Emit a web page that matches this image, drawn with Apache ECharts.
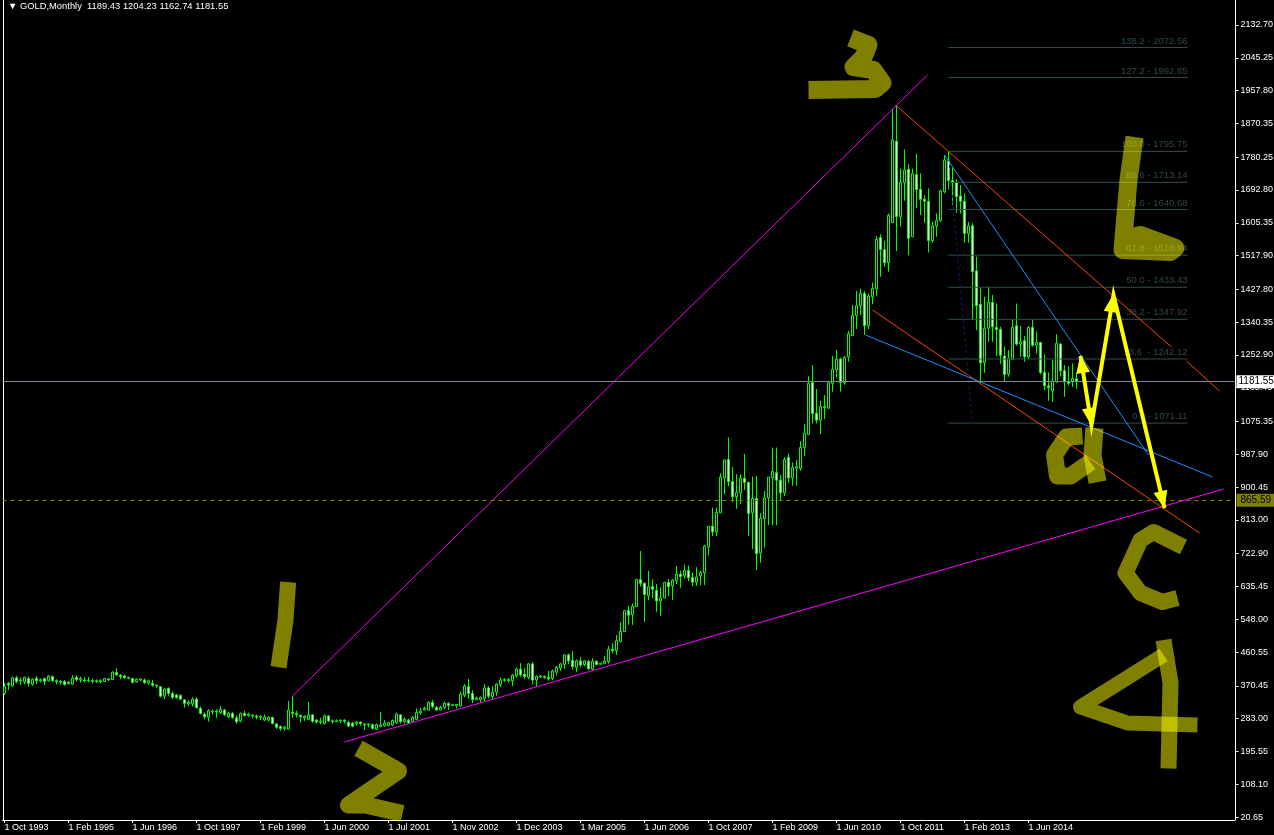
<!DOCTYPE html>
<html><head><meta charset="utf-8">
<style>html,body{margin:0;padding:0;background:#000;overflow:hidden}#c{width:1274px;height:835px}</style>
<script src="https://cdn.jsdelivr.net/npm/echarts@6/dist/echarts.min.js"></script>
</head><body><div id="c"></div>
<script>
// monthly bars: [open, close, low, high]
const bars1993to1997 = [
[350,368,346,377],[377,373,359,381],[370,392,368,395],[392,382,377,397],[386,384,373,393],[381,393,375,395],[390,377,368,395],[375,388,371,390],[390,384,375,397],[384,387,380,390],
[390,382,373,392],[384,396,382,399],[395,384,382,398],[384,382,375,388],[382,380,373,386],[382,374,371,386],[380,377,374,383],[375,391,373,399],[393,387,382,399],[386,389,379,395],
[386,384,380,393],[384,386,380,394],[384,382,377,389],[382,384,378,388],[384,382,377,388],[382,390,381,391],[389,387,383,391],[387,407,386,409],[406,400,397,417],[399,395,388,402],
[397,393,389,400],[393,391,388,395],[390,380,377,391],[381,388,379,390],[386,389,382,390],[386,379,376,390],[378,384,374,387],[377,372,368,386],[372,370,364,374],[368,343,340,370],
[343,362,335,364],[364,350,344,366],[350,340,335,355],[346,339,336,349],[345,335,333,348],[333,324,312,335],[322,326,317,331],[322,335,315,340],[335,312,310,340]
];
const bars1997to2001 = [
[310,297,294,315],[295,288,281,299],[287,304,275,308],[301,303,293,307],[303,301,285,308],[299,308,295,317],[306,294,290,309],[288,297,285,301],[297,286,283,301],[285,275,269,291],
[277,297,273,299],[297,291,289,304],[291,295,288,299],[292,290,284,295],[290,287,281,294],[287,289,279,292],[279,287,277,294],[279,286,276,290],[286,270,268,288],[269,260,256,270],
[262,257,251,265],[257,260,251,263],[255,306,254,330],[300,297,285,343],[297,294,286,304],[292,288,273,293],[285,289,277,292],[281,293,279,328],[293,276,272,294],[279,274,270,282],
[273,276,268,285],[270,290,267,294],[290,277,275,293],[277,275,270,281],[275,277,274,281],[277,279,271,281],[279,276,270,281],[273,263,261,277],[271,263,260,274],[270,274,265,277],
[274,270,264,275],[268,266,253,272],[267,269,260,270],[267,257,254,270],[255,267,253,270],[262,266,260,301],[264,271,261,279],[265,272,263,275]
];
const bars2001to2006 = [
[266,278,263,281],[272,295,269,299],[293,275,270,295],[275,281,270,286],[279,271,269,283],[276,286,273,290],[281,299,279,310],[298,303,292,312],
[306,310,305,315],[306,326,305,330],[326,315,311,333],[313,306,305,317],[306,313,305,317],[312,324,308,328],[324,318,306,326],[318,320,317,322],[317,321,310,322],
[317,348,315,355],[346,370,340,375],[368,350,337,389],[350,334,324,359],[334,338,333,342],[333,340,326,342],[337,365,330,375],[365,343,337,370],[342,353,335,370],
[354,375,344,377],[374,386,367,393],[385,387,381,391],[387,385,379,391],[384,399,370,402],[397,415,393,419],[415,400,395,431],[401,395,388,417],[393,429,388,431],[429,386,375,434],
[386,396,370,398],[394,397,391,399],[396,393,389,398],[393,389,384,410],[390,410,386,414],[407,420,399,423],[418,429,411,431],[427,453,415,455],[453,437,429,457],[438,422,414,463],
[420,437,407,441],[437,426,420,448],[427,437,423,439],[436,416,413,439],[415,436,410,444],[436,427,426,438],[428,431,427,431],[430,436,428,450],[435,468,430,477],[468,464,457,484],
[464,491,453,506],[489,516,486,540],[515,571,514,573],[572,559,533,583],[560,583,533,590]
];
const bars2006to2010 = [
[582,654,581,656],[654,644,635,730],[644,614,541,646],[611,635,599,677],[635,628,605,655],[625,597,568,642],[597,605,557,633],[605,646,604,648],[646,635,610,655],[637,652,599,655],
[651,668,642,690],[668,662,632,677],[664,678,657,694],[678,659,650,691],[659,647,636,673],[647,661,637,687],[664,673,639,677],[672,743,639,746],[741,796,719,796],[796,781,770,846],
[781,833,770,846],[832,927,832,937],[925,973,882,973],[974,915,903,1033],[915,875,861,954],[875,886,842,935],[885,924,855,935],[924,913,893,989],[913,830,770,915],[832,870,735,928],
[870,723,679,930],[725,817,699,831],[817,872,739,890],[872,927,799,927],[925,942,799,1006],[939,919,799,1006],[919,885,864,933],[885,974,877,980],[980,925,912,990],[925,953,904,966],
[951,955,904,973],[950,1006,944,1023],[1006,1044,983,1068],[1041,1177,1039,1196],[1179,1097,1070,1226],[1097,1079,1070,1162],[1079,1115,1042,1131],[1115,1113,1082,1146],[1111,1179,1109,1179],[1177,1214,1155,1250],
[1213,1241,1193,1266],[1242,1179,1155,1245],[1179,1246,1173,1250],[1248,1309,1235,1317],[1304,1358,1304,1386],[1358,1384,1322,1423],[1384,1417,1359,1430],[1417,1331,1306,1423],[1331,1410,1322,1417],[1408,1430,1388,1446]
];
const bars2010to2015 = [
[1429,1561,1410,1570],[1566,1534,1461,1575],[1534,1499,1488,1557],[1499,1625,1475,1630],[1606,1826,1606,1910],[1822,1622,1530,1917],[1622,1713,1595,1750],[1712,1746,1664,1801],[1748,1564,1519,1762],[1568,1737,1568,1750],
[1734,1694,1644,1790],[1694,1668,1626,1737],[1668,1663,1605,1679],[1663,1558,1526,1697],[1558,1597,1552,1608],[1597,1611,1568,1630],[1611,1690,1608,1693],[1688,1773,1684,1786],[1770,1718,1694,1795],[1718,1713,1653,1753],
[1713,1675,1632,1721],[1677,1663,1630,1706],[1663,1577,1552,1684],[1577,1597,1552,1608],[1597,1475,1346,1604],[1477,1384,1319,1515],[1388,1232,1179,1430],[1232,1324,1205,1408],[1324,1393,1288,1435],[1393,1328,1288,1413],
[1326,1321,1250,1390],[1321,1252,1229,1328],[1250,1201,1181,1275],[1202,1244,1195,1266],[1241,1326,1241,1346],[1331,1282,1277,1390],[1282,1288,1248,1330],[1291,1248,1235,1303],[1248,1326,1241,1330],[1326,1279,1275,1346],
[1279,1286,1257,1315],[1286,1206,1201,1288],[1206,1171,1159,1254],[1170,1166,1131,1206],[1157,1183,1128,1239],[1181,1284,1179,1308],[1282,1211,1195,1284],[1211,1181,1141,1226],[1181,1177,1172,1223],[1181,1190,1168,1230],
[1189.43,1181.55,1162.74,1204.23]
];
const tickLabels = ['1 Oct 1993','1 Feb 1995','1 Jun 1996','1 Oct 1997','1 Feb 1999','1 Jun 2000','1 Jul 2001','1 Nov 2002','1 Dec 2003','1 Mar 2005','1 Jun 2006','1 Oct 2007','1 Feb 2009','1 Jun 2010','1 Oct 2011','1 Feb 2013','1 Jun 2014'];
const priceTicks = [2132.70,2045.25,1957.80,1870.35,1780.25,1692.80,1605.35,1517.90,1427.80,1340.35,1252.90,1165.45,1075.35,987.90,900.45,813.00,722.90,635.45,548.00,460.55,370.45,283.00,195.55,108.10,20.65];
const barSlots = 308, tickEvery = 16;
const headerText = '▼ GOLD,Monthly  1189.43 1204.23 1162.74 1181.55';
const lastPrice = 1181.55, lowerLevel = 865.59;
const fibNames = ['138.2 - 2072.56','127.2 - 1992.85','100.0 - 1795.75','88.6 - 1713.14','78.6 - 1640.68','61.8 - 1518.94','50.0 - 1433.43','38.2 - 1347.92','23.6  - 1242.12','0.0 - 1071.11'];
const fibPrices = [2072.56,1992.85,1795.75,1713.14,1640.68,1518.94,1433.43,1347.92,1242.12,1071.11];
const fibSpan = [236,295.75];
// trend lines as [bar index, price]
const magentaUp = [[72,343.4],[230.75,1999.4]];
const magentaBase = [[85,220.7],[304.75,895.4]];
const redUpperA = [[222.75,1919.4],[291.75,1274.1]];
const redUpperB = [[295.5,1236.7],[303.75,1156.7]];
const redLower = [[217,1372.7],[298.75,778]];
const blueLower = [[215.25,1306.1],[302,927.4]];
const blueUpper = [[235,1786],[286,986]];
const navyDotted = [[236.25,1759.4],[242,1071.4]];
const arrowPath = [[269,1250.1],[271.75,1066.1],[277.25,1412.7],[290,844.7]];
const arrowHeads = [[269.3,1228.7,9],[271.45,1087.4,189],[276.9,1391.4,-9.6],[289.5,866,193.5]];
// hand-drawn wave marks as [bar index, price]
const markStrokes = [
 {w:16,p:[[70.9,647],[70.25,546],[68.5,420]]},
 {w:17,p:[[88.5,204],[98.5,143.4],[86,52.7],[90.25,52.7],[99.5,30]]},
 {w:18,p:[[211.5,2098.1],[216,2079.4],[214.75,2047.4],[212.25,2020.7],[217.25,2012.7],[219.5,1978.1],[217.75,1962.1],[201,1959.4]]},
 {w:18,p:[[282.5,1834],[281,1719.4],[279.5,1532.7],[291.5,1527.4],[292.75,1538],[284,1572.7],[281,1564.7]]},
 {w:18,p:[[272.5,1058],[272,986],[273.25,914]]},
 {w:17,p:[[269.5,1036.7],[265.5,1034],[262.5,986],[263.25,930],[266.5,930],[271.5,967.4]]},
 {w:16,p:[[294.75,740.7],[287.25,780.7],[284,759.4],[280.25,671.4],[284,618.1],[289.5,594.1],[293.25,604.7]]},
 {w:16,p:[[289.75,492.7],[291.5,378],[291,150]]},
 {w:15,p:[[289.75,452.7],[269,314],[280.75,271.4],[298.25,266]]}
];

const candles = [].concat(bars1993to1997, bars1997to2001, bars2001to2006, bars2006to2010, bars2010to2015);
const categories = Array.from({length: barSlots}, (_, i) => (i % tickEvery === 0 && tickLabels[i / tickEvery]) || '');
const isLabelled = i => i % tickEvery === 0 && i / tickEvery < tickLabels.length;
const uiFont = 'Liberation Sans';

function line(points, color, width, extra) {
  return Object.assign({type:'line', xAxisIndex:1, yAxisIndex:0, data:points, symbol:'none', silent:true, clip:false,
    lineStyle:{color, width}, z:4}, extra || {});
}
const series = [{
  type:'candlestick', xAxisIndex:0, yAxisIndex:0, data:candles, barWidth:2, silent:true, z:2,
  itemStyle:{color:'#000', color0:'#fff', borderColor:'#00ff00', borderColor0:'#00ff00', borderColorDoji:'#00ff00', borderWidth:1},
  markLine:{silent:true, symbol:'none', animation:false, data:[
    {yAxis:lastPrice, lineStyle:{color:'#778899', width:1, type:'solid'},
     label:{show:true, position:'end', distance:2, formatter:lastPrice.toFixed(2), color:'#000', backgroundColor:'#fff', padding:[2,2,1,2], fontFamily:uiFont, fontSize:10}},
    {yAxis:lowerLevel, lineStyle:{color:'#808000', width:1, type:[4,4]},
     label:{show:true, position:'end', distance:2, formatter:lowerLevel.toFixed(2), color:'#000', backgroundColor:'#808000', padding:[2,4,1,4], fontFamily:uiFont, fontSize:10}}
  ]}
}];
fibPrices.forEach(p => series.push(line([[fibSpan[0],p],[fibSpan[1],p]], '#2f4f4f', 1, {z:3})));
series.push({type:'scatter', xAxisIndex:1, yAxisIndex:0, silent:true, clip:false, z:3, symbolSize:1,
  itemStyle:{color:'rgba(0,0,0,0)'},
  data:fibPrices.map((p,i)=>({value:[fibSpan[1],p], name:fibNames[i]})),
  label:{show:true, position:'top', align:'right', distance:1, formatter:d=>d.name, color:'#3a5a5a', fontFamily:uiFont, fontSize:9.5}});
series.push(line(magentaUp,'#ff00ff',1), line(magentaBase,'#ff00ff',1));
series.push(line(redUpperA,'#ff4500',1), line(redUpperB,'#ff4500',1), line(redLower,'#ff4500',1));
series.push(line(blueLower,'#1e90ff',1), line(blueUpper,'#1e90ff',1));
series.push(line(navyDotted,'#191970',1,{lineStyle:{color:'#191970',width:1,type:[3,3]}}));
markStrokes.forEach(s => series.push(line(s.p,'rgba(255,255,0,0.5)',s.w,{z:6, lineStyle:{color:'rgba(255,255,0,0.5)',width:s.w,cap:'butt',join:'round'}})));
series.push(line(arrowPath,'#ffff00',4,{z:7, lineStyle:{color:'#ffff00',width:4,cap:'butt',join:'miter'}}));
series.push({type:'scatter', xAxisIndex:1, yAxisIndex:0, silent:true, clip:false, z:7, symbol:'triangle', symbolSize:[14,18],
  itemStyle:{color:'#ffff00', opacity:1},
  data:arrowHeads.map(h=>({value:[h[0],h[1]], symbolRotate:h[2]}))});

const chart = echarts.init(document.getElementById('c'), null, {renderer:'canvas'});
chart.setOption({
  animation:false, backgroundColor:'#000',
  title:{text:headerText, left:8, top:0, padding:0, textStyle:{color:'#fff', fontFamily:uiFont, fontSize:9.4, fontWeight:'normal', lineHeight:12}},
  grid:{left:2.5, top:0, width:1232, height:820, outerBoundsMode:'none'},
  tooltip:{show:false},
  xAxis:[
    {type:'category', data:categories, boundaryGap:true, position:'bottom',
     axisLine:{show:true, onZero:false, lineStyle:{color:'#fff',width:1}},
     axisTick:{show:true, length:3, alignWithLabel:true, interval:i=>isLabelled(i), lineStyle:{color:'#fff'}},
     axisLabel:{show:true, interval:i=>isLabelled(i), hideOverlap:false, color:'#fff', fontFamily:uiFont, fontSize:9, align:'left', margin:3},
     splitLine:{show:false}},
    {type:'value', show:false, min:-0.5, max:barSlots-0.5, splitLine:{show:false}}
  ],
  yAxis:[
    {type:'value', position:'right', offset:1, min:12.7, max:2199.4,
     axisLine:{show:true, onZero:false, lineStyle:{color:'#fff',width:1}},
     axisTick:{show:true, length:3, customValues:priceTicks, lineStyle:{color:'#fff'}},
     axisLabel:{show:true, customValues:priceTicks, formatter:v=>v.toFixed(2), color:'#fff', fontFamily:uiFont, fontSize:9, margin:5},
     splitLine:{show:false}},
    {type:'value', position:'left', offset:-1, min:12.7, max:2199.4,
     axisLine:{show:true, onZero:false, lineStyle:{color:'#fff',width:1}}, axisTick:{show:false}, axisLabel:{show:false}, splitLine:{show:false}}
  ],
  series
});
</script></body></html>
